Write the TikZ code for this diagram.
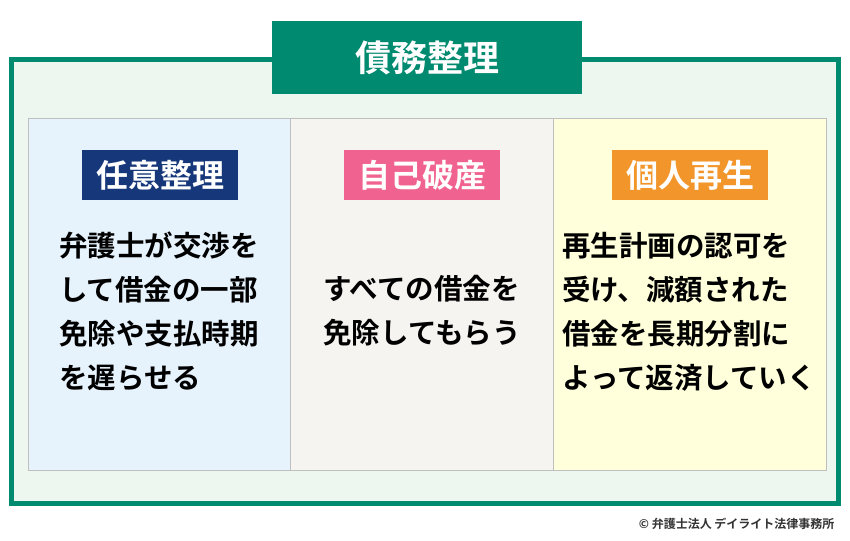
\documentclass[tikz,border=0pt]{standalone}
\usepackage{fontspec}
\newfontfamily\cjk{Noto Sans CJK JP Bold}
\definecolor{grn}{HTML}{008A70}
\definecolor{bgg}{HTML}{EEF6F0}
\definecolor{navy}{HTML}{16387A}
\definecolor{pnk}{HTML}{F0628F}
\definecolor{org}{HTML}{F2962B}
\definecolor{pb}{HTML}{E6F2FC}
\definecolor{pg}{HTML}{F5F4F1}
\definecolor{py}{HTML}{FFFFDC}
\begin{document}
\begin{tikzpicture}[x=1pt,y=-1pt,
  lab/.style={text=white,font=\cjk\fontsize{32}{34}\selectfont,minimum width=156pt,minimum height=50pt,inner sep=0pt},
  body/.style={font=\cjk\fontsize{28.5}{44}\selectfont,align=left,anchor=north,inner sep=0pt}]
\useasboundingbox (0,0) rectangle (850,540);
\fill[white] (0,0) rectangle (850,540);
\draw[grn,line width=5pt,fill=bgg] (11,60) rectangle (838,503);
\node[fill=grn,minimum width=310pt,minimum height=73pt,text=white,font=\cjk\fontsize{36}{38}\selectfont] (title) at (427,58) {債務整理};
\draw[gray!50,fill=pb] (28,118) rectangle (290,470);
\draw[gray!50,fill=pg] (290,118) rectangle (553,470);
\draw[gray!50,fill=py] (553,118) rectangle (826,470);
\node[lab,fill=navy] (l1) at (160,175) {任意整理};
\node[lab,fill=pnk] (l2) at (422,175) {自己破産};
\node[lab,fill=org] (l3) at (690,175) {個人再生};
\node[body] (t1) at (159,232) {弁護士が交渉を\\して借金の一部\\免除や支払時期\\を遅らせる};
\node[body] (t2) at (422,275) {すべての借金を\\免除してもらう};
\node[body] (t3) at (689,232) {再生計画の認可を\\受け、減額された\\借金を長期分割に\\よって返済していく};
\node[anchor=east,font=\cjk\fontsize{12}{14}\selectfont,text=black!80] (c) at (838,524) {© 弁護士法人 デイライト法律事務所};
\end{tikzpicture}
\end{document}
